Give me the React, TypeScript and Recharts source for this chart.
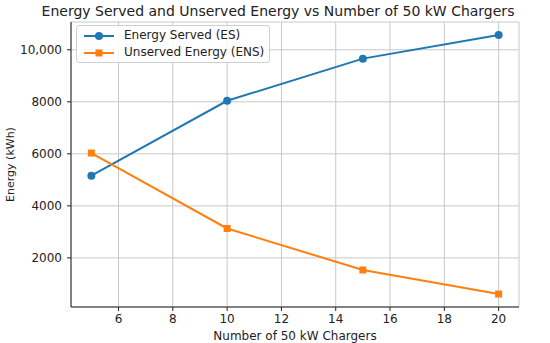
import React from 'react';
import { LineChart, Line, XAxis, YAxis, CartesianGrid } from 'recharts';

const chargers = [5, 10, 15, 20];
const energyServed = [5160, 8040, 9660, 10570];
const unservedEnergy = [6030, 3130, 1535, 610];
const xTicks = [6, 8, 10, 12, 14, 16, 18, 20];
const yTicks = [2000, 4000, 6000, 8000, 10000];
const seriesNames = ['Energy Served (ES)', 'Unserved Energy (ENS)'];

const data = chargers.map((c, i) => ({ n: c, es: energyServed[i], ens: unservedEnergy[i] }));

const FONT = '"DejaVu Sans", sans-serif';
const BLUE = '#1f77b4';
const ORANGE = '#ff7f0e';

const SquareDot = (props: any) => {
  const { cx, cy } = props;
  if (cx == null || cy == null) return null;
  return <rect x={cx - 3.5} y={cy - 3.5} width={7} height={7} fill={ORANGE} />;
};

const CircleDot = (props: any) => {
  const { cx, cy } = props;
  if (cx == null || cy == null) return null;
  return <circle cx={cx} cy={cy} r={4} fill={BLUE} />;
};

const LegendBox = () => (
  <div
    style={{
      position: 'absolute',
      left: 76,
      top: 25,
      border: '1px solid #d0d0d0',
      borderRadius: 3,
      background: 'rgba(255,255,255,0.85)',
      padding: '1px 5px 1px 6px',
      fontFamily: FONT,
      fontSize: 12,
      color: '#222',
      lineHeight: '17px',
    }}
  >
    {[{ name: seriesNames[0], color: BLUE, sq: false }, { name: seriesNames[1], color: ORANGE, sq: true }].map((e) => (
      <div key={e.name} style={{ display: 'flex', alignItems: 'center' }}>
        <svg width={32} height={12} style={{ marginRight: 9 }}>
          <line x1={1} y1={6} x2={31} y2={6} stroke={e.color} strokeWidth={2} />
          {e.sq ? <rect x={12.5} y={2.5} width={7} height={7} fill={e.color} /> : <circle cx={16} cy={6} r={4} fill={e.color} />}
        </svg>
        <span style={{ whiteSpace: 'nowrap' }}>{e.name}</span>
      </div>
    ))}
  </div>
);

export default function App() {
  return (
    <div style={{ position: 'absolute', left: 0, top: 0, width: 550, height: 343, background: '#fff' }}>
      <LineChart width={550} height={343} data={data} margin={{ top: 22, right: 31, bottom: 0, left: 0 }}>
        <text x={278} y={16} textAnchor="middle" fontFamily={FONT} fontSize={14} fill="#222">
          Energy Served and Unserved Energy vs Number of 50 kW Chargers
        </text>
        <CartesianGrid stroke="#c8c8c8" strokeWidth={1} />
        <XAxis
          dataKey="n"
          type="number"
          domain={[4.25, 20.75]}
          ticks={xTicks}
          height={36}
          tickSize={4}
          tickMargin={3}
          stroke="#222"
          tick={{ fontFamily: FONT, fontSize: 12, fill: '#222' }}
          allowDataOverflow
          label={{ value: 'Number of 50 kW Chargers', position: 'insideBottom', offset: 3, fontFamily: FONT, fontSize: 12, fill: '#222' }}
        />
        <XAxis xAxisId="top" orientation="top" dataKey="n" type="number" domain={[4.25, 20.75]} height={0} tick={false} tickLine={false} stroke="#222" allowDataOverflow />
        <YAxis
          type="number"
          domain={[112, 11068]}
          ticks={yTicks}
          width={71}
          tickSize={4}
          tickMargin={5}
          stroke="#222"
          allowDataOverflow
          tickFormatter={(v: number) => (v >= 10000 ? v.toLocaleString('en-US') : String(v))}
          tick={{ fontFamily: FONT, fontSize: 12, fill: '#222' }}
          label={{ value: 'Energy (kWh)', angle: -90, position: 'insideLeft', offset: 10, fontFamily: FONT, fontSize: 11, fill: '#222', style: { textAnchor: 'middle' } }}
        />
        <YAxis yAxisId="right" orientation="right" type="number" domain={[112, 11068]} width={0} tick={false} tickLine={false} stroke="#222" allowDataOverflow />
        <Line dataKey="es" name={seriesNames[0]} stroke={BLUE} strokeWidth={2} dot={<CircleDot />} activeDot={false} isAnimationActive={false} />
        <Line dataKey="ens" name={seriesNames[1]} stroke={ORANGE} strokeWidth={2} dot={<SquareDot />} activeDot={false} isAnimationActive={false} />
      </LineChart>
      <LegendBox />
    </div>
  );
}
